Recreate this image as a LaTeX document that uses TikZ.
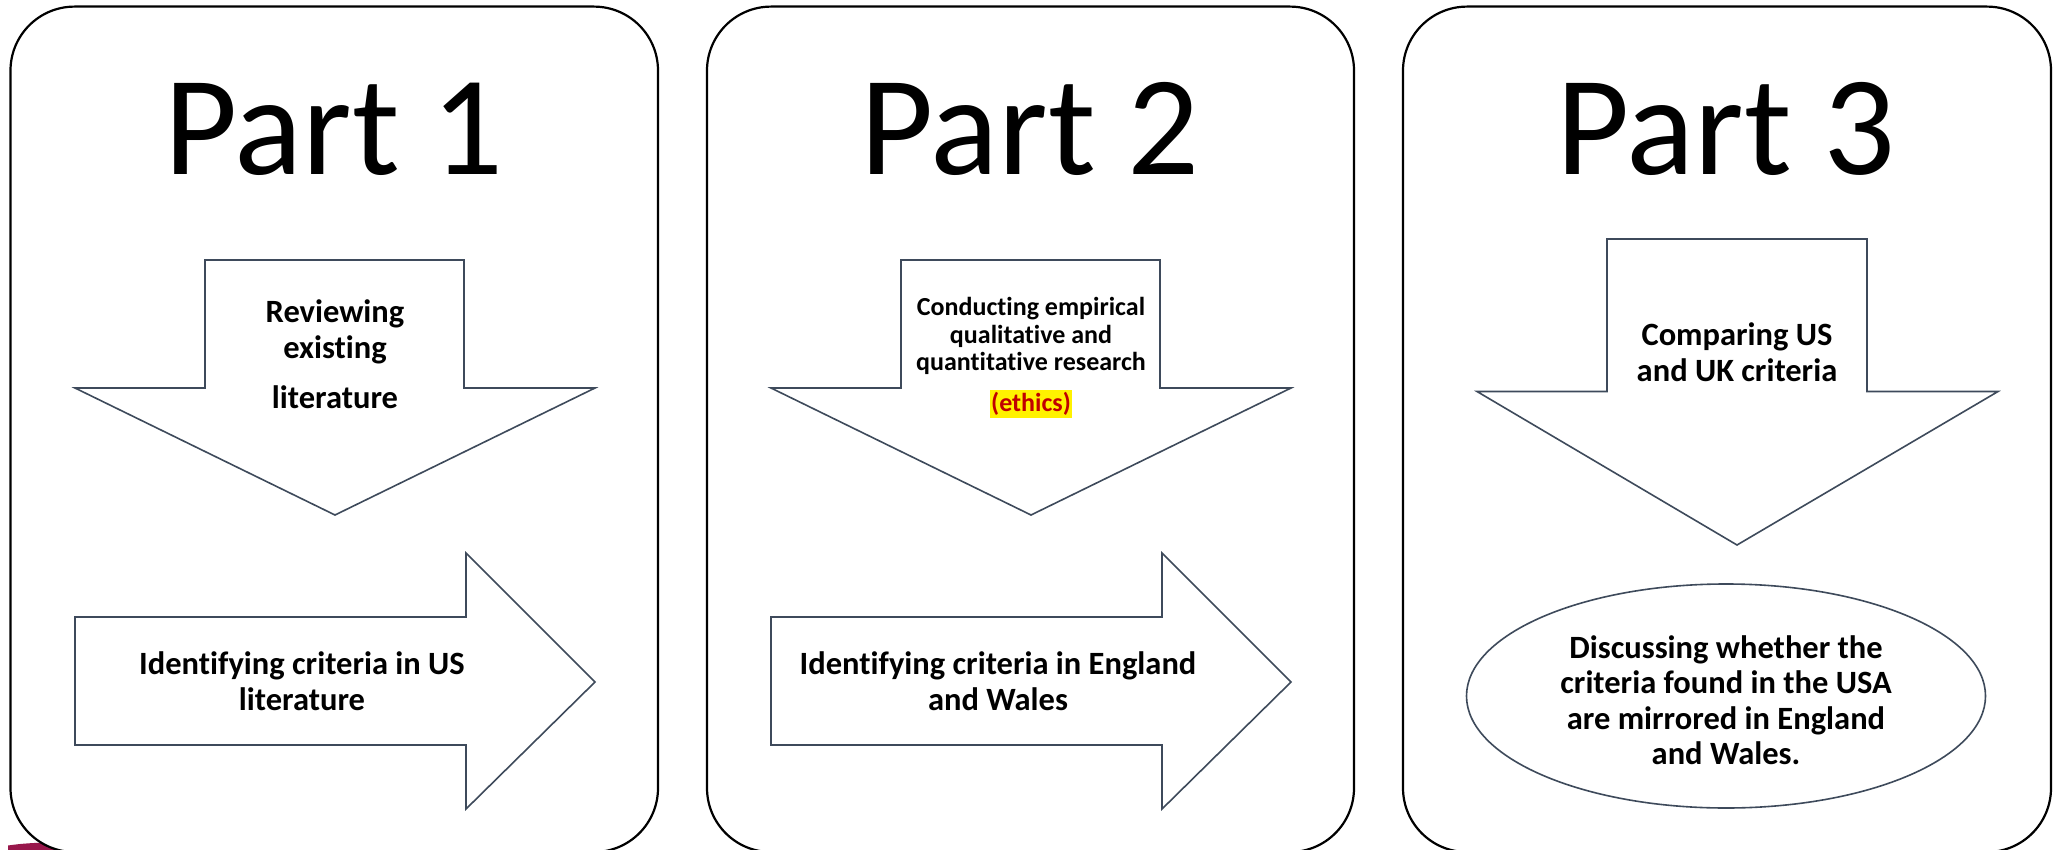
\documentclass[tikz,border=0pt]{standalone}
\usepackage{fontspec}
\setmainfont{Carlito}[Ligatures={NoCommon}]
\usetikzlibrary{shapes.geometric}
\begin{document}
\begin{tikzpicture}[x=1pt,y=-1pt]
\definecolor{edge}{HTML}{3E4A5B}
\definecolor{maroon}{HTML}{98174B}
\definecolor{ethred}{HTML}{C00000}
\tikzset{
  panel/.style={draw=black, line width=2.2pt, fill=white, rounded corners=64pt},
  shapeline/.style={draw=edge, line width=1.6pt, fill=white, line join=miter},
  title/.style={font=\fontsize{142}{150}\selectfont, anchor=base, inner sep=0pt},
  label/.style={font=\fontsize{32.5}{35.5}\selectfont\bfseries, align=center, inner sep=0pt},
  smalllabel/.style={font=\fontsize{26}{27.6}\selectfont\bfseries, align=center, inner sep=0pt}
}
\useasboundingbox (0,0) rectangle (2060,850);
\fill[white] (0,0) rectangle (2060,850);
% logo fragment
\fill[maroon] (8,850) -- (8,845.5) .. controls (25,843) and (45,842) .. (64,843) -- (64,850) -- cycle;
% panels
\draw[panel] (10.5,6.6) rectangle (658,852);
\draw[panel] (707,6.6) rectangle (1354,852);
\draw[panel] (1403,6.6) rectangle (2051,852);
\node[title] (t1) at (334,175) {Part 1};
\node[title] (t2) at (1030,175) {Part 2};
\node[title] (t3) at (1726,175) {Part 3};
% Part 1
\draw[shapeline] (205,260) -- (464,260) -- (464,388) -- (595,388) -- (335,515) -- (75,388) -- (205,388) -- cycle;
\node[label] (a1) at (335,332) {Reviewing\\existing};
\node[label] (a1b) at (335,397) {literature};
\draw[shapeline] (75,617) -- (466,617) -- (466,553) -- (595,682) -- (466,809) -- (466,745) -- (75,745) -- cycle;
\node[label] (b1) at (302,681) {Identifying criteria in US\\literature};
% Part 2
\draw[shapeline] (901,260) -- (1160,260) -- (1160,388) -- (1291,388) -- (1031,515) -- (771,388) -- (901,388) -- cycle;
\node[smalllabel] (a2) at (1031,336) {Conducting empirical\\qualitative and\\quantitative research};
\node[smalllabel, fill=yellow, text=ethred, inner xsep=1pt, inner ysep=2pt] (e2) at (1031,404) {(ethics)};
\draw[shapeline] (771,617) -- (1162,617) -- (1162,553) -- (1291,682) -- (1162,809) -- (1162,745) -- (771,745) -- cycle;
\node[label] (b2) at (998,681) {Identifying criteria in England\\and Wales};
% Part 3
\draw[shapeline] (1607,239) -- (1867,239) -- (1867,391.5) -- (1998,391.5) -- (1737,545) -- (1477,391.5) -- (1607,391.5) -- cycle;
\node[label] (a3) at (1737,352) {Comparing US\\and UK criteria};
\node[ellipse, draw=edge, line width=1.6pt, minimum width=519pt, minimum height=224pt, inner sep=0pt] (c3) at (1726,696) {};
\node[label] (c3t) at (1726,700) {Discussing whether the\\criteria found in the USA\\are mirrored in England\\and Wales.};
\end{tikzpicture}
\end{document}
